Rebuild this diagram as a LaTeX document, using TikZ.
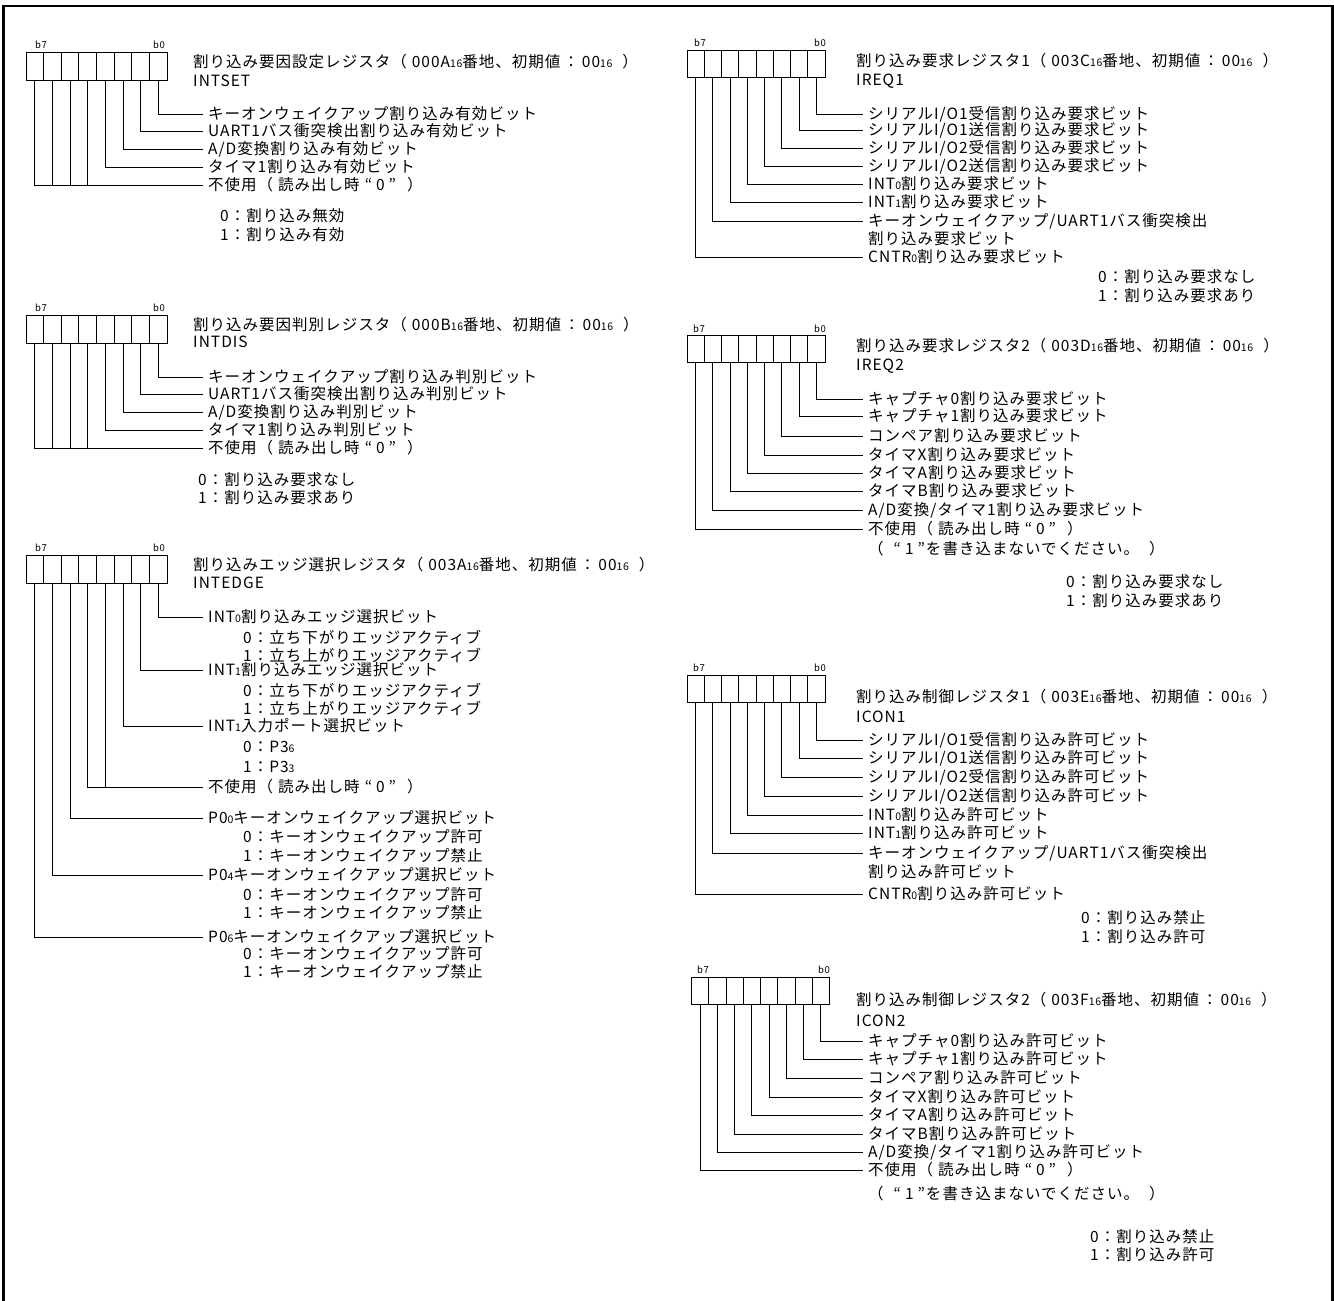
\documentclass[tikz,border=0pt]{standalone}
\usepackage{fontspec}
\setmainfont[LetterSpace=6.5]{Noto Sans CJK JP}
\newcommand{\subd}[1]{{\fontsize{10.5}{11}\selectfont #1}}
\newcommand{\opar}{（\hspace{5pt}}
\newcommand{\cpar}{\hspace{10pt}）}
\newcommand{\cln}{\hspace{3pt}：\hspace{3pt}}
\newcommand{\qt}[1]{\hspace{5pt}“\hspace{4pt}#1\hspace{4pt}”\hspace{1pt}}

\begin{document}
\begin{tikzpicture}[x=1pt,y=-1pt]

\tikzset{cell/.style = {draw, line width=0.8pt, inner sep=0pt, minimum width=17.625pt, minimum height=28pt}}
\tikzset{rcell/.style = {cell, minimum width=17.25pt, minimum height=27pt}}
\tikzset{bitno/.style = {inner sep=0pt, font=\fontsize{9.5}{10}\selectfont}}
\tikzset{lbl/.style = {anchor=west, inner xsep=5pt, inner ysep=0pt, font=\fontsize{15.5}{17}\selectfont}}
\tikzset{lead/.style = {line width=0.8pt}}

\useasboundingbox (0,0) rectangle (1334,1301);
%frame
\draw[line width=2.5pt] (3.5,1301) -- (3.5,6) -- (1332.5,6) -- (1332.5,1301);

%INTSET
\foreach \i in {0,...,7} \node[cell] (s\i) at ({167-17.625*(\i+0.5)},66) {};
\node[bitno] (s7n) at (41,45) {b7};
\node[bitno] (s0n) at (159,45) {b0};
\node[lbl] (st) at (188,62) {割り込み要因設定レジスタ\opar 000A\subd{16}番地、初期値\cln 00\subd{16}\cpar};
\node[lbl] (sn) at (188,81) {INTSET};
\node[lbl] (ls0) at (203,114) {キーオンウェイクアップ割り込み有効ビット};
\node[lbl] (ls1) at (203,131) {UART1バス衝突検出割り込み有効ビット};
\node[lbl] (ls2) at (203,149) {A/D変換割り込み有効ビット};
\node[lbl] (ls3) at (203,167) {タイマ1割り込み有効ビット};
\node[lbl] (ls4) at (203,185) {不使用\opar 読み出し時\qt{0}\cpar};
\node[lbl] (ls8) at (215,216) {0：割り込み無効};
\node[lbl] (ls9) at (215,235) {1：割り込み有効};
\draw[lead] (s0.south) |- (ls0.west);
\draw[lead] (s1.south) |- (ls1.west);
\draw[lead] (s2.south) |- (ls2.west);
\draw[lead] (s3.south) |- (ls3.west);
\draw[lead] (s7.south) |- (ls4.west);
\foreach \i in {4,5,6} \draw[lead] (s\i.south) -- (s\i.south |- ls4.west);

%INTDIS
\foreach \i in {0,...,7} \node[cell] (d\i) at ({167-17.625*(\i+0.5)},329) {};
\node[bitno] (d7n) at (41,308) {b7};
\node[bitno] (d0n) at (159,308) {b0};
\node[lbl] (dt) at (188,325) {割り込み要因判別レジスタ\opar 000B\subd{16}番地、初期値\cln 00\subd{16}\cpar};
\node[lbl] (dn) at (188,342) {INTDIS};
\node[lbl] (ld0) at (203,377) {キーオンウェイクアップ割り込み判別ビット};
\node[lbl] (ld1) at (203,394) {UART1バス衝突検出割り込み判別ビット};
\node[lbl] (ld2) at (203,412) {A/D変換割り込み判別ビット};
\node[lbl] (ld3) at (203,430) {タイマ1割り込み判別ビット};
\node[lbl] (ld4) at (203,448) {不使用\opar 読み出し時\qt{0}\cpar};
\node[lbl] (ld8) at (193,480) {0：割り込み要求なし};
\node[lbl] (ld9) at (193,498) {1：割り込み要求あり};
\draw[lead] (d0.south) |- (ld0.west);
\draw[lead] (d1.south) |- (ld1.west);
\draw[lead] (d2.south) |- (ld2.west);
\draw[lead] (d3.south) |- (ld3.west);
\draw[lead] (d7.south) |- (ld4.west);
\foreach \i in {4,5,6} \draw[lead] (d\i.south) -- (d\i.south |- ld4.west);

%INTEDGE
\foreach \i in {0,...,7} \node[cell] (e\i) at ({167-17.625*(\i+0.5)},569) {};
\node[bitno] (e7n) at (41,548) {b7};
\node[bitno] (e0n) at (159,548) {b0};
\node[lbl] (et) at (188,565) {割り込みエッジ選択レジスタ\opar 003A\subd{16}番地、初期値\cln 00\subd{16}\cpar};
\node[lbl] (en) at (188,583) {INTEDGE};
\node[lbl] (le0) at (203,617) {INT\subd{0}割り込みエッジ選択ビット};
\node[lbl] (le0a) at (238,637) {0：立ち下がりエッジアクティブ};
\node[lbl] (le0b) at (238,655) {1：立ち上がりエッジアクティブ};
\node[lbl] (le1) at (203,670) {INT\subd{1}割り込みエッジ選択ビット};
\node[lbl] (le1a) at (238,690) {0：立ち下がりエッジアクティブ};
\node[lbl] (le1b) at (238,708) {1：立ち上がりエッジアクティブ};
\node[lbl] (le2) at (203,726) {INT\subd{1}入力ポート選択ビット};
\node[lbl] (le2a) at (238,747) {0：P3\subd{6}};
\node[lbl] (le2b) at (238,767) {1：P3\subd{3}};
\node[lbl] (le3) at (203,787) {不使用\opar 読み出し時\qt{0}\cpar};
\node[lbl] (le5) at (203,818) {P0\subd{0}キーオンウェイクアップ選択ビット};
\node[lbl] (le5a) at (238,837) {0：キーオンウェイクアップ許可};
\node[lbl] (le5b) at (238,856) {1：キーオンウェイクアップ禁止};
\node[lbl] (le6) at (203,875) {P0\subd{4}キーオンウェイクアップ選択ビット};
\node[lbl] (le6a) at (238,895) {0：キーオンウェイクアップ許可};
\node[lbl] (le6b) at (238,913) {1：キーオンウェイクアップ禁止};
\node[lbl] (le7) at (203,937) {P0\subd{6}キーオンウェイクアップ選択ビット};
\node[lbl] (le7a) at (238,954) {0：キーオンウェイクアップ許可};
\node[lbl] (le7b) at (238,972) {1：キーオンウェイクアップ禁止};
\draw[lead] (e0.south) |- (le0.west);
\draw[lead] (e1.south) |- (le1.west);
\draw[lead] (e2.south) |- (le2.west);
\draw[lead] (e4.south) |- (le3.west);
\draw[lead] (e3.south) -- (e3.south |- le3.west);
\draw[lead] (e5.south) |- (le5.west);
\draw[lead] (e6.south) |- (le6.west);
\draw[lead] (e7.south) |- (le7.west);

%IREQ1
\foreach \i in {0,...,7} \node[rcell] (q\i) at ({825-17.25*(\i+0.5)},63.5) {};
\node[bitno] (q7n) at (700,43) {b7};
\node[bitno] (q0n) at (820,43) {b0};
\node[lbl] (qt) at (851,61) {割り込み要求レジスタ1\opar 003C\subd{16}番地、初期値\cln 00\subd{16}\cpar};
\node[lbl] (qn) at (851,81) {IREQ1};
\node[lbl] (lq0) at (863,114) {シリアルI/O1受信割り込み要求ビット};
\node[lbl] (lq1) at (863,130) {シリアルI/O1送信割り込み要求ビット};
\node[lbl] (lq2) at (863,148) {シリアルI/O2受信割り込み要求ビット};
\node[lbl] (lq3) at (863,166) {シリアルI/O2送信割り込み要求ビット};
\node[lbl] (lq4) at (863,184) {INT\subd{0}割り込み要求ビット};
\node[lbl] (lq5) at (863,202) {INT\subd{1}割り込み要求ビット};
\node[lbl] (lq6) at (863,221) {キーオンウェイクアップ/UART1バス衝突検出};
\node[lbl] (lq6b) at (863,239) {割り込み要求ビット};
\node[lbl] (lq7) at (863,257) {CNTR\subd{0}割り込み要求ビット};
\node[lbl] (lq8) at (1093,277) {0：割り込み要求なし};
\node[lbl] (lq9) at (1093,296) {1：割り込み要求あり};
\draw[lead] (q0.south) |- (lq0.west);
\draw[lead] (q1.south) |- (lq1.west);
\draw[lead] (q2.south) |- (lq2.west);
\draw[lead] (q3.south) |- (lq3.west);
\draw[lead] (q4.south) |- (lq4.west);
\draw[lead] (q5.south) |- (lq5.west);
\draw[lead] (q6.south) |- (lq6.west);
\draw[lead] (q7.south) |- (lq7.west);

%IREQ2
\foreach \i in {0,...,7} \node[rcell] (r\i) at ({825-17.25*(\i+0.5)},349) {};
\node[bitno] (r7n) at (699,329) {b7};
\node[bitno] (r0n) at (820,329) {b0};
\node[lbl] (rt) at (851,346) {割り込み要求レジスタ2\opar 003D\subd{16}番地、初期値\cln 00\subd{16}\cpar};
\node[lbl] (rn) at (851,366) {IREQ2};
\node[lbl] (lr0) at (863,399) {キャプチャ0割り込み要求ビット};
\node[lbl] (lr1) at (863,416) {キャプチャ1割り込み要求ビット};
\node[lbl] (lr2) at (863,436) {コンペア割り込み要求ビット};
\node[lbl] (lr3) at (863,455) {タイマX割り込み要求ビット};
\node[lbl] (lr4) at (863,473) {タイマA割り込み要求ビット};
\node[lbl] (lr5) at (863,491) {タイマB割り込み要求ビット};
\node[lbl] (lr6) at (863,510) {A/D変換/タイマ1割り込み要求ビット};
\node[lbl] (lr7) at (863,529) {不使用\opar 読み出し時\qt{0}\cpar};
\node[lbl] (lr7b) at (863,549) {\opar\qt{1}を書き込まないでください。\cpar};
\node[lbl] (lr8) at (1061,582) {0：割り込み要求なし};
\node[lbl] (lr9) at (1061,601) {1：割り込み要求あり};
\draw[lead] (r0.south) |- (lr0.west);
\draw[lead] (r1.south) |- (lr1.west);
\draw[lead] (r2.south) |- (lr2.west);
\draw[lead] (r3.south) |- (lr3.west);
\draw[lead] (r4.south) |- (lr4.west);
\draw[lead] (r5.south) |- (lr5.west);
\draw[lead] (r6.south) |- (lr6.west);
\draw[lead] (r7.south) |- (lr7.west);

%ICON1
\foreach \i in {0,...,7} \node[rcell] (c\i) at ({825-17.25*(\i+0.5)},689) {};
\node[bitno] (c7n) at (699,668) {b7};
\node[bitno] (c0n) at (820,668) {b0};
\node[lbl] (ct) at (851,697) {割り込み制御レジスタ1\opar 003E\subd{16}番地、初期値\cln 00\subd{16}\cpar};
\node[lbl] (cn) at (851,717) {ICON1};
\node[lbl] (lc0) at (863,740) {シリアルI/O1受信割り込み許可ビット};
\node[lbl] (lc1) at (863,758) {シリアルI/O1送信割り込み許可ビット};
\node[lbl] (lc2) at (863,777) {シリアルI/O2受信割り込み許可ビット};
\node[lbl] (lc3) at (863,796) {シリアルI/O2送信割り込み許可ビット};
\node[lbl] (lc4) at (863,815) {INT\subd{0}割り込み許可ビット};
\node[lbl] (lc5) at (863,833) {INT\subd{1}割り込み許可ビット};
\node[lbl] (lc6) at (863,853) {キーオンウェイクアップ/UART1バス衝突検出};
\node[lbl] (lc6b) at (863,872) {割り込み許可ビット};
\node[lbl] (lc7) at (863,894) {CNTR\subd{0}割り込み許可ビット};
\node[lbl] (lc8) at (1076,918) {0：割り込み禁止};
\node[lbl] (lc9) at (1076,937) {1：割り込み許可};
\draw[lead] (c0.south) |- (lc0.west);
\draw[lead] (c1.south) |- (lc1.west);
\draw[lead] (c2.south) |- (lc2.west);
\draw[lead] (c3.south) |- (lc3.west);
\draw[lead] (c4.south) |- (lc4.west);
\draw[lead] (c5.south) |- (lc5.west);
\draw[lead] (c6.south) |- (lc6.west);
\draw[lead] (c7.south) |- (lc7.west);

%ICON2
\foreach \i in {0,...,7} \node[rcell] (k\i) at ({829.5-17.25*(\i+0.5)},991) {};
\node[bitno] (k7n) at (703,970) {b7};
\node[bitno] (k0n) at (824,970) {b0};
\node[lbl] (kt) at (851,1000) {割り込み制御レジスタ2\opar 003F\subd{16}番地、初期値\cln 00\subd{16}\cpar};
\node[lbl] (kn) at (851,1021) {ICON2};
\node[lbl] (lk0) at (863,1041) {キャプチャ0割り込み許可ビット};
\node[lbl] (lk1) at (863,1059) {キャプチャ1割り込み許可ビット};
\node[lbl] (lk2) at (863,1078) {コンペア割り込み許可ビット};
\node[lbl] (lk3) at (863,1097) {タイマX割り込み許可ビット};
\node[lbl] (lk4) at (863,1115) {タイマA割り込み許可ビット};
\node[lbl] (lk5) at (863,1134) {タイマB割り込み許可ビット};
\node[lbl] (lk6) at (863,1152) {A/D変換/タイマ1割り込み許可ビット};
\node[lbl] (lk7) at (863,1170) {不使用\opar 読み出し時\qt{0}\cpar};
\node[lbl] (lk7b) at (863,1194) {\opar\qt{1}を書き込まないでください。\cpar};
\node[lbl] (lk8) at (1085,1237) {0：割り込み禁止};
\node[lbl] (lk9) at (1085,1255) {1：割り込み許可};
\draw[lead] (k0.south) |- (lk0.west);
\draw[lead] (k1.south) |- (lk1.west);
\draw[lead] (k2.south) |- (lk2.west);
\draw[lead] (k3.south) |- (lk3.west);
\draw[lead] (k4.south) |- (lk4.west);
\draw[lead] (k5.south) |- (lk5.west);
\draw[lead] (k6.south) |- (lk6.west);
\draw[lead] (k7.south) |- (lk7.west);

\end{tikzpicture}
\end{document}
